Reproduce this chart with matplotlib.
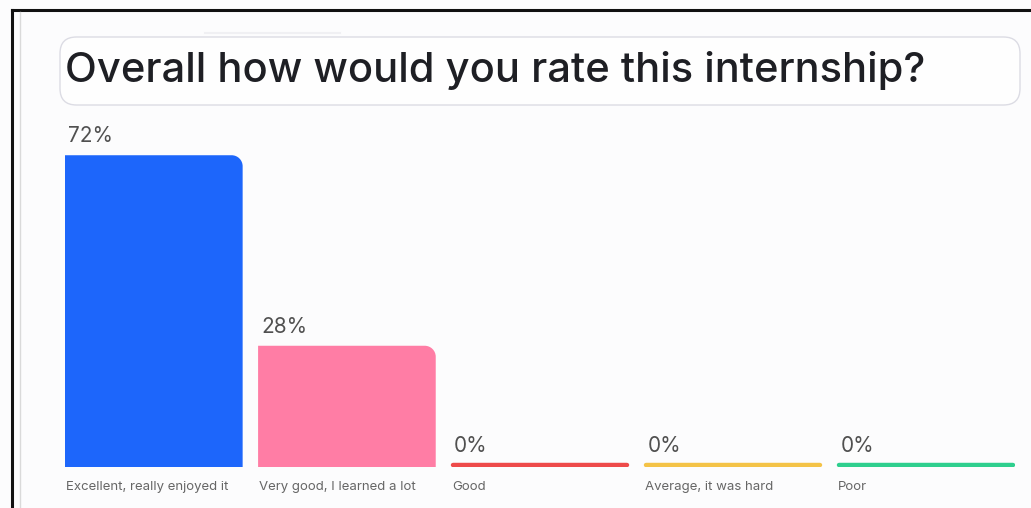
import numpy as np
import matplotlib
matplotlib.use("Agg")
import matplotlib.pyplot as plt
from matplotlib.path import Path
from matplotlib.patches import PathPatch, FancyBboxPatch
from matplotlib.lines import Line2D

title = "Overall how would you rate this internship?"
categories = ["Excellent, really enjoyed it", "Very good, I learned a lot", "Good",
              "Average, it was hard", "Poor"]
values = [72, 28, 0, 0, 0]
colors = ["#1D66FB", "#FF7DA5", "#EE4A4A", "#F4C347", "#2ECF8E"]

W, H = 1031, 508
fig = plt.figure(figsize=(W / 100, H / 100), dpi=100)
fig.patch.set_facecolor("#FCFCFD")

def fx(px):
    return px / W

def fy(py):
    return 1 - py / H

# black frame (screenshot border)
fig.add_artist(Line2D([fx(12), fx(12)], [fy(10), 0], color="#111111", lw=2.2,
                      transform=fig.transFigure))
fig.add_artist(Line2D([fx(12), 1], [fy(10), fy(10)], color="#111111", lw=2.2,
                      transform=fig.transFigure))
fig.add_artist(Line2D([fx(20), fx(20)], [fy(12), 0], color="#DADADA", lw=1.0,
                      transform=fig.transFigure))
fig.add_artist(Line2D([fx(205), fx(340)], [fy(33), fy(33)], color="#F0F0F3", lw=1.5,
                      transform=fig.transFigure))

# title box
box = FancyBboxPatch((fx(60), fy(105)), fx(960), (105 - 37) / H,
                     boxstyle="round,pad=0,rounding_size=0.016",
                     mutation_aspect=W / H,
                     transform=fig.transFigure, facecolor="#FEFEFE",
                     edgecolor="#DCDCE4", lw=1.0)
fig.add_artist(box)
fig.text(fx(65), fy(70), title, fontsize=30, family="Inter", fontweight="medium",
         color="#1E1F24", va="center", ha="left")

# plot axes: baseline at y=467px, 100% = 433px, x category pitch ~193px
ax = fig.add_axes([fx(65), fy(467), fx(950), 433 / H])
ax.set_facecolor("none")
ax.set_axis_off()
width = 0.92
pos = np.arange(len(categories))
ax.set_xlim(-width / 2, pos[-1] + width / 2)
ax.set_ylim(0, 100)

px_per_x = 950 / (pos[-1] + width)
px_per_y = 433 / 100
r = 11
rx, ry = r / px_per_x, r / px_per_y
k = 0.5523

for p, v, c, lab in zip(pos, values, colors, categories):
    x0, x1 = p - width / 2, p + width / 2
    if v > 0:
        verts = [(x0, 0), (x0, v), (x1 - rx, v),
                 (x1 - rx + k * rx, v), (x1, v - ry + k * ry), (x1, v - ry),
                 (x1, 0), (x0, 0)]
        codes = [Path.MOVETO, Path.LINETO, Path.LINETO,
                 Path.CURVE4, Path.CURVE4, Path.CURVE4,
                 Path.LINETO, Path.CLOSEPOLY]
        ax.add_patch(PathPatch(Path(verts, codes), facecolor=c, edgecolor="none"))
        ly = v + 9 / px_per_y
    else:
        ax.plot([x0 + 0.01, x1 - 0.01], [0.5, 0.5], color=c, lw=3.2,
                solid_capstyle="round")
        ly = 0.5 + 9 / px_per_y
    ax.text(x0 + 3 / px_per_x, ly, f"{v}%", fontsize=15, color="#505050",
            family="Inter", ha="left", va="bottom")
    ax.text(x0 + 1 / px_per_x, -20 / px_per_y, lab, fontsize=9.5, color="#666666",
            family="Inter", ha="left", va="center", clip_on=False)

fig.savefig("out.png", dpi=100, facecolor=fig.get_facecolor())
